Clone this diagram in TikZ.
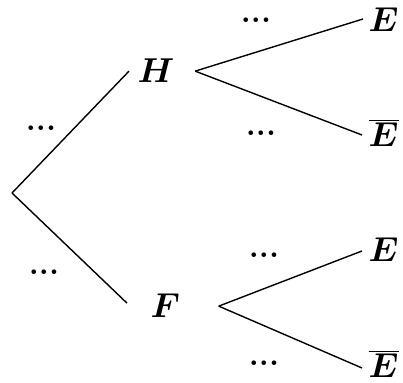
\documentclass[tikz,border=0pt]{standalone}
\usepackage{bm}
\usetikzlibrary{positioning}

\tikzset{
    ev/.style={inner sep=0pt, anchor=base west, font=\fontsize{17}{20}\selectfont},
    pr/.style={inner sep=0pt, font=\fontsize{16}{19}\selectfont\bfseries}
}

\begin{document}
\begin{tikzpicture}[x=0.5pt, y=-0.5pt, line width=0.7pt]
    \useasboundingbox (0,0) rectangle (403,383);
    \coordinate (root) at (12,193);
    \node[ev] (H) at (137,83) {$\bm{H}$};
    \node[ev] (F) at (150,318) {$\bm{F}$};
    \node[ev] (E1) at (368,32) {$\bm{E}$};
    \node[ev] (Eb1) at (368,147) {$\overline{\bm{E}}$};
    \node[ev] (E2) at (368,262) {$\bm{E}$};
    \node[ev] (Eb2) at (368,378) {$\overline{\bm{E}}$};
    % first level
    \draw (root) -- ([xshift=-4pt]H.west);
    \draw (root) -- ([xshift=-11.5pt,yshift=1.5pt]F.west);
    % second level
    \draw ([xshift=10pt]H.east) -- ([xshift=-2.5pt,yshift=6.5pt]E1.base west);
    \draw ([xshift=10pt]H.east) -- ([xshift=-3pt,yshift=6pt]Eb1.base west);
    \draw ([xshift=19pt]F.east) -- ([xshift=-3pt,yshift=5.5pt]E2.base west);
    \draw ([xshift=19pt]F.east) -- ([xshift=-3pt,yshift=5pt]Eb2.base west);
    % probabilities
    \node[pr] (pH) at (41,128) {...};
    \node[pr] (pF) at (44,272) {...};
    \node[pr] (pHE) at (256,20) {...};
    \node[pr] (pHEb) at (261,133) {...};
    \node[pr] (pFE) at (264,255) {...};
    \node[pr] (pFEb) at (264,363) {...};
\end{tikzpicture}
\end{document}
